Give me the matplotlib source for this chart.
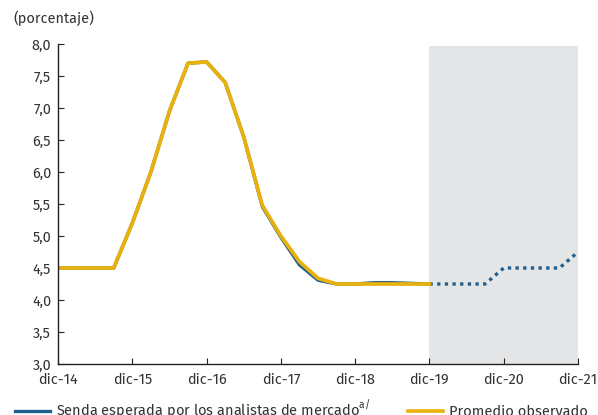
import matplotlib
matplotlib.use("Agg")
import matplotlib.pyplot as plt
from matplotlib.lines import Line2D

plt.rcParams['font.family'] = ['Fira Sans', 'Open Sans', 'DejaVu Sans']
plt.rcParams['mathtext.fontset'] = 'custom'
plt.rcParams['mathtext.rm'] = 'Fira Sans'

# Quarterly data, dic-14 .. dic-21 (index 0 .. 28)
tick_labels = ["dic-14", "dic-15", "dic-16", "dic-17", "dic-18", "dic-19", "dic-20", "dic-21"]

# Observed average (dic-14 .. dic-19)
observado = [4.50, 4.50, 4.50, 4.50, 5.20, 6.00, 6.95, 7.70, 7.72,
             7.40, 6.55, 5.48, 5.00, 4.60, 4.34, 4.25, 4.25,
             4.25, 4.25, 4.25, 4.25]

# Path expected by market analysts, historical part (dic-14 .. dic-19)
senda_hist = [4.50, 4.50, 4.50, 4.50, 5.20, 6.00, 6.95, 7.70, 7.72,
              7.40, 6.55, 5.46, 4.98, 4.55, 4.31, 4.25, 4.25,
              4.27, 4.27, 4.26, 4.25]

# Forecast part (dic-19 .. dic-21)
senda_proy = [4.25, 4.25, 4.25, 4.25, 4.50, 4.50, 4.50, 4.50, 4.75]

blue = "#1f5f8b"
yellow = "#e9b10c"
shade = "#e4e5e7"
fs = 10.4

fig = plt.figure(figsize=(5.98, 4.15), dpi=100)
ax = fig.add_axes([58/598, 1 - 364/415, (578 - 58)/598, (364 - 44)/415])

x_hist = list(range(len(observado)))
x_proy = list(range(len(senda_hist) - 1, len(senda_hist) - 1 + len(senda_proy)))

ax.axvspan(x_proy[0], x_proy[-1], ymax=0.995, color=shade, lw=0, zorder=0)

ax.plot(list(range(len(senda_hist))), senda_hist, color=blue, lw=2.4, zorder=2,
        solid_joinstyle='round')
ax.plot(x_proy, senda_proy, color=blue, lw=2.4, ls=(0, (1, 1.3)), zorder=2)
ax.plot(x_hist, observado, color=yellow, lw=2.7, zorder=3, solid_joinstyle='round')

ax.set_xlim(0, 28)
ax.set_ylim(3.0, 8.0)
ax.set_xticks(range(0, 29, 4))
ax.set_xticklabels(tick_labels)
yt = [3.0 + 0.5 * i for i in range(11)]
ax.set_yticks(yt)
ax.set_yticklabels([f"{v:.1f}".replace(".", ",") for v in yt])

for s in ["top", "right"]:
    ax.spines[s].set_visible(False)
for s in ["left", "bottom"]:
    ax.spines[s].set_color("#222222")
    ax.spines[s].set_linewidth(1.0)
    ax.spines[s].set_zorder(4)
ax.tick_params(axis="both", direction="in", length=4, width=0.8, color="#222222",
               labelsize=fs, labelcolor="#333333")
ax.tick_params(axis="x", pad=6)
ax.tick_params(axis="y", pad=5)

fig.text(13/598, 1 - 18/415, "(porcentaje)", fontsize=fs, color="#333333",
         ha="left", va="center")

handles = [Line2D([], [], color=blue, lw=2.4), Line2D([], [], color=yellow, lw=2.6)]
labels = [r"Senda esperada por los analistas de mercado$^{\mathrm{a/}}$", "Promedio observado"]
fig.legend(handles, labels, loc="center left", bbox_to_anchor=(15/598, 1 - 410/415),
           ncol=2, frameon=False, fontsize=10.5, handlelength=2.4, handletextpad=0.4,
           columnspacing=2.6, labelcolor="#333333", borderaxespad=0, borderpad=0)

fig.savefig("out.png", dpi=100)
